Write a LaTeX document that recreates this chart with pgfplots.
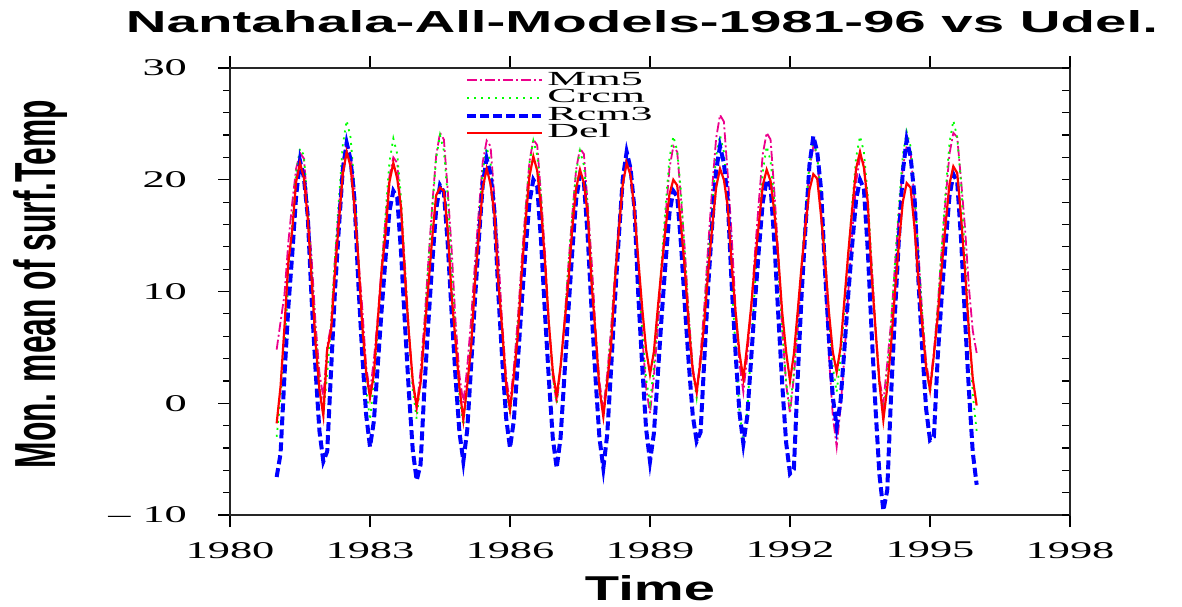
\documentclass[border=0pt]{standalone}
\usepackage{pgfplots}
\pgfplotsset{compat=1.18}
\usepackage{pgfplotstable}
\usepackage{graphicx}
\usepackage{fontspec}
\setmainfont{Liberation Serif}
\newfontfamily\tickfont[FakeStretch=1.85]{Liberation Serif}
\newfontfamily\legfont[FakeStretch=2.2]{Liberation Serif}
\newfontfamily\headfont{Liberation Sans}

% monthly means, m = months since Jan 1981
\pgfplotstableread{
m mm5 crcm rcm3 del
0 4.8 -3.0 -6.6 -1.8
1 7.3 0.5 -4.5 1.5
2 9.7 5.1 2.4 6.8
3 14.4 10.8 8.6 12.6
4 17.9 16.0 13.3 15.5
5 21.0 20.6 18.5 19.8
6 22.4 22.8 21.7 21.5
7 21.9 22.2 20.2 20.2
8 17.6 17.6 16.7 16.5
9 12.9 11.7 9.2 11.0
10 7.1 6.2 3.0 5.4
11 2.7 1.5 -2.5 1.2
12 0.5 -1.0 -5.2 -1.1
13 5.1 2.6 -4.3 4.8
14 7.0 7.3 3.0 6.5
15 12.9 13.1 10.1 11.8
16 17.5 18.3 15.7 16.2
17 21.6 23.1 20.9 20.5
18 23.5 25.3 23.3 22.5
19 22.2 23.8 21.8 21.2
20 19.4 19.5 18.3 17.6
21 13.0 12.8 10.7 12.9
22 8.6 6.7 4.4 7.0
23 3.3 1.3 -1.0 2.8
24 1.0 -1.5 -3.9 0.5
25 3.9 1.9 -1.6 2.6
26 7.7 6.5 3.4 7.4
27 12.3 12.0 8.4 11.9
28 16.5 17.0 13.0 15.2
29 20.3 21.6 17.2 19.8
30 22.0 23.7 19.0 21.5
31 21.5 22.3 18.4 20.1
32 17.1 18.3 13.4 17.5
33 12.3 12.0 7.0 11.2
34 6.3 6.2 1.0 6.3
35 1.8 1.2 -4.2 2.0
36 -0.5 -1.4 -6.9 -0.3
37 2.9 2.0 -5.5 1.8
38 7.3 6.6 1.4 6.2
39 12.7 12.2 7.2 10.5
40 17.7 17.3 12.5 14.8
41 22.1 21.9 17.3 18.6
42 24.2 24.0 19.5 19.3
43 23.6 22.6 18.9 19.0
44 19.0 18.4 14.2 15.4
45 13.7 11.9 8.0 9.6
46 7.3 5.9 2.3 5.5
47 2.5 0.7 -2.6 1.4
48 0.0 -2.0 -5.2 -1.5
49 3.2 1.4 -2.4 1.6
50 7.5 5.9 3.3 5.0
51 12.6 11.3 9.3 10.8
52 17.3 16.3 14.7 15.1
53 21.6 20.8 19.6 19.3
54 23.5 22.9 21.9 21.0
55 23.0 21.5 20.5 19.6
56 18.4 17.7 17.1 16.9
57 13.3 11.7 9.8 10.8
58 7.1 6.2 3.9 6.6
59 2.4 1.5 -1.3 1.7
60 0.0 -1.0 -4.0 -0.6
61 3.2 2.3 -1.5 2.5
62 7.5 6.8 3.6 6.0
63 12.7 12.1 8.9 11.6
64 17.4 17.0 13.7 16.2
65 21.6 21.5 18.0 20.3
66 23.6 23.5 20.0 22.1
67 23.1 22.2 19.4 20.8
68 18.5 18.4 14.4 17.4
69 13.4 12.5 8.0 12.6
70 7.2 7.1 2.1 7.1
71 2.4 2.4 -3.1 2.9
72 0.0 0.0 -5.8 0.6
73 3.1 3.1 -3.1 3.3
74 7.2 7.2 2.5 7.1
75 12.3 12.2 8.2 10.8
76 16.8 16.7 13.5 15.6
77 20.9 20.7 18.2 19.2
78 22.8 22.6 20.4 20.9
79 22.3 21.3 19.8 19.7
80 17.7 17.5 14.8 16.8
81 12.7 11.6 8.2 10.6
82 6.6 6.2 2.2 6.2
83 1.9 1.4 -3.1 1.3
84 -0.5 -1.0 -5.8 -1.2
85 2.6 2.2 -2.8 1.9
86 6.7 6.3 3.1 5.2
87 11.6 11.4 9.3 11.0
88 16.1 16.0 15.0 15.5
89 20.2 20.1 20.1 19.6
90 22.0 22.0 22.5 21.5
91 21.5 20.7 21.0 20.4
92 17.0 17.2 17.4 17.3
93 12.1 11.7 9.6 12.8
94 6.0 6.6 3.3 8.5
95 1.4 2.2 -2.3 4.8
96 -0.9 0.0 -5.2 2.6
97 2.4 3.3 -2.7 4.6
98 6.7 7.6 2.5 8.5
99 11.9 12.8 7.8 12.2
100 16.7 17.6 12.6 15.6
101 21.0 21.9 17.0 18.7
102 23.0 23.9 19.0 20.0
103 22.5 22.6 18.5 19.5
104 18.2 18.8 14.1 15.8
105 13.5 13.0 8.5 11.8
106 7.6 7.6 3.4 6.8
107 3.2 2.9 -1.1 2.9
108 1.0 0.5 -3.4 1.0
109 4.4 3.7 -2.6 3.8
110 8.8 8.0 4.1 7.4
111 14.3 13.1 10.7 11.9
112 19.3 17.8 16.0 15.8
113 23.7 22.1 20.8 19.3
114 25.8 24.0 23.0 21.0
115 25.2 22.5 21.5 20.0
116 20.4 18.1 18.1 17.6
117 15.0 11.2 10.6 12.4
118 8.5 4.8 4.5 8.2
119 3.6 -0.7 -0.8 4.5
120 1.0 -3.6 -3.6 2.2
121 4.2 -0.8 -1.2 5.2
122 8.4 4.8 3.9 8.6
123 13.5 10.6 9.1 12.6
124 18.1 16.0 13.8 16.1
125 22.3 20.7 18.0 19.5
126 24.2 23.0 20.0 20.9
127 23.6 21.7 19.4 19.9
128 18.8 17.9 14.3 17.0
129 13.3 12.0 7.8 13.0
130 6.7 6.6 1.7 8.1
131 1.7 1.9 -3.5 4.6
132 -0.9 -0.5 -6.3 2.0
133 2.4 2.8 -5.9 4.4
134 6.7 7.1 2.4 8.3
135 11.9 12.4 9.8 12.4
136 16.7 17.2 15.8 15.9
137 21.0 21.5 21.3 19.1
138 23.0 23.5 23.9 20.5
139 22.3 22.2 22.5 20.1
140 17.2 18.6 19.1 16.7
141 11.3 13.0 11.8 12.9
142 4.3 7.8 5.8 8.2
143 -1.1 3.3 0.6 4.6
144 -3.9 1.0 -2.1 2.8
145 -0.4 4.1 0.2 5.0
146 4.3 8.3 4.9 9.3
147 10.0 13.3 9.8 13.5
148 15.1 17.9 14.2 17.4
149 19.8 22.0 18.2 21.0
150 22.0 23.9 20.0 22.5
151 21.5 22.5 19.2 21.1
152 17.2 18.5 13.7 18.0
153 12.5 12.3 6.3 11.4
154 6.6 6.6 -0.5 6.6
155 2.2 1.6 -6.4 1.8
156 0.0 -1.0 -9.6 -1.5
157 3.6 2.4 -7.8 1.4
158 7.3 7.0 0.8 5.3
159 12.4 12.6 8.1 10.0
160 17.0 17.6 14.7 14.3
161 21.1 22.2 20.7 18.0
162 23.0 24.3 23.6 19.7
163 22.5 23.0 22.1 19.3
164 18.3 19.2 18.6 15.8
165 13.7 13.4 11.1 11.1
166 8.0 8.0 4.9 7.0
167 3.7 3.3 -0.5 3.2
168 1.5 0.9 -3.3 1.2
169 4.6 4.2 -3.0 4.3
170 8.7 8.6 4.2 7.8
171 13.7 14.0 9.5 12.1
172 18.2 18.9 14.2 16.0
173 22.3 23.3 18.5 19.6
174 24.2 25.3 20.5 21.2
175 23.8 23.8 19.8 20.6
176 19.9 19.6 14.6 16.6
177 15.7 13.1 7.6 11.9
178 10.4 7.0 1.2 6.5
179 6.5 0.8 -4.4 2.2
180 4.5 -2.5 -7.3 -0.2
}\nanta

\begin{document}
\begin{tikzpicture}
\useasboundingbox (-115pt,-45.5pt) rectangle (476pt,257.5pt);
\begin{axis}[
  scale only axis, width=420pt, height=223.5pt,
  xmin=1980, xmax=1998, ymin=-10, ymax=30,
  xtick={1980,1983,...,1998},
  xticklabels={1980,1983,1986,1989,1992,1995,1998},
  ytick={-10,0,...,30},
  yticklabels={{\textendash\hspace{6pt}10},0,10,20,30},
  minor x tick num=2, minor y tick num=4,
  xtick pos=both, ytick pos=left, xticklabel pos=lower,
  tick align=outside, major tick length=6pt, minor tick length=3.5pt,
  tick style={black, line width=0.6pt},
  axis line style={line width=0.8pt, black!85},
  tick label style={font=\tickfont\fontsize{12}{12}\selectfont},
  xticklabel style={yshift=-4pt},
  yticklabel style={xshift=-12pt},
  legend style={at={(axis description cs:0.2798,0.993)}, anchor=north west,
    draw=none, fill=none, inner sep=0pt, row sep=0pt, column sep=1.5pt,
    nodes={inner sep=0pt, text height=6.8pt, text depth=2pt},
    font=\legfont\fontsize{10}{10}\selectfont},
  legend cell align=left,
  legend image code/.code={\draw[#1] (0pt,0pt) -- (37.5pt,0pt);},
]
\addplot[magenta, line width=0.9pt, dash pattern=on 5pt off 1.5pt on 1pt off 1.5pt]
  table[x expr=1981+\thisrow{m}/12, y=mm5]{\nanta};
\addlegendentry{Mm5}
\addplot[green, line width=0.9pt, dash pattern=on 1pt off 2.5pt]
  table[x expr=1981+\thisrow{m}/12, y=crcm]{\nanta};
\addlegendentry{Crcm}
\addplot[blue, line width=2pt, dash pattern=on 4.5pt off 2pt]
  table[x expr=1981+\thisrow{m}/12, y=rcm3]{\nanta};
\addlegendentry{Rcm3}
\addplot[red, line width=1.1pt]
  table[x expr=1981+\thisrow{m}/12, y=del]{\nanta};
\addlegendentry{Del}
\end{axis}
\begin{axis}[
  scale only axis, width=420pt, height=223.5pt,
  xmin=1980, xmax=1998, ymin=-10, ymax=30,
  hide x axis, axis y line*=right,
  ytick={-10,-8,...,30}, yticklabels={},
  tick align=inside, major tick length=4pt,
  tick style={black, line width=0.6pt},
  axis line style={line width=0.8pt, black!85},
]
\end{axis}
\node[anchor=base] at (206pt,241pt)
  {\resizebox{516pt}{11pt}{\headfont\bfseries Nantahala-All-Models-1981-96 vs Udel.}};
\node[anchor=base, rotate=90] at (-87pt,115.5pt)
  {\resizebox{184pt}{21pt}{\headfont\bfseries Mon. mean of surf.Temp}};
\node[anchor=base] at (210pt,-42.5pt)
  {\resizebox{65pt}{12.5pt}{\headfont\bfseries Time}};
\end{tikzpicture}
\end{document}
